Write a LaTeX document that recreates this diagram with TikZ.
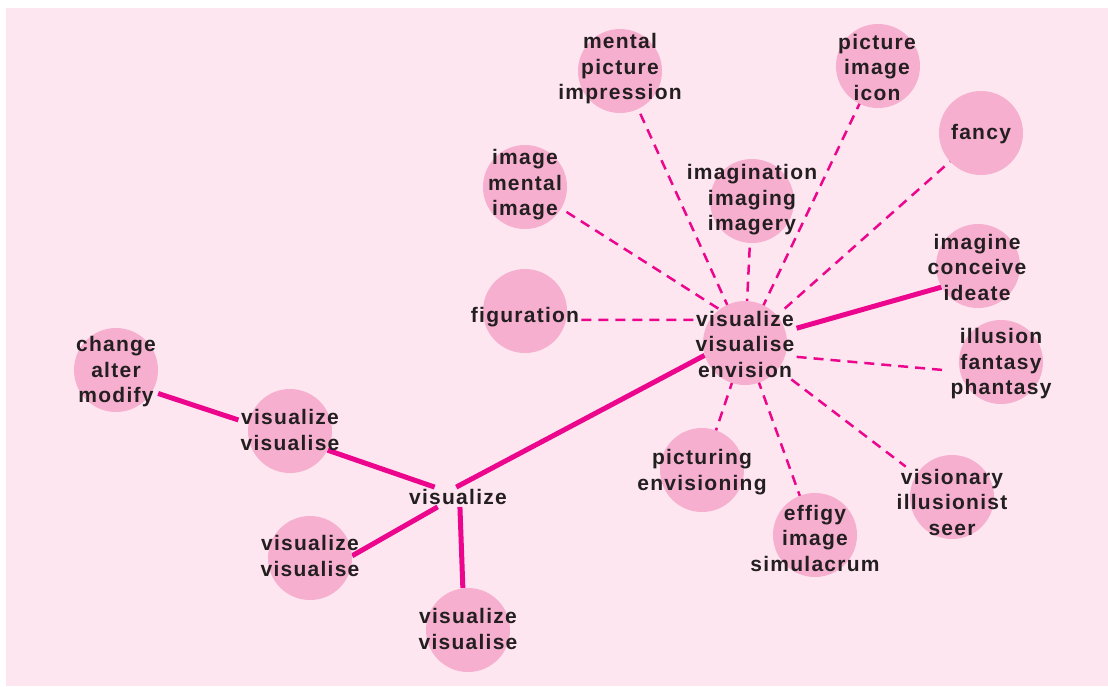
\documentclass[tikz,border=0pt]{standalone}
\usepackage{fontspec}
\setmainfont{Liberation Sans}[LetterSpace=6]
\usetikzlibrary{positioning}
\definecolor{bgpink}{HTML}{FDE6EF}
\definecolor{blobpink}{HTML}{F6AFCF}
\definecolor{linkpink}{HTML}{EC068D}
\definecolor{wordgray}{HTML}{231F20}
\pgfdeclarelayer{paper}
\pgfdeclarelayer{links}
\pgfsetlayers{paper,links,main}

\begin{document}
\begin{tikzpicture}[
        x=1pt, y=-1pt,
        blob/.style={circle, fill=blobpink, minimum size=84pt, inner sep=0pt},
        word/.style={align=center, text=wordgray, inner sep=2pt,
                font=\fontsize{21}{25.5}\selectfont\bfseries},
        strong/.style={draw=linkpink, line width=5pt},
        weak/.style={draw=linkpink, line width=2.5pt, dash pattern=on 10pt off 7pt}
        ]

        % Define the paper
        \useasboundingbox (0,0) rectangle (1108,686);
        \begin{pgfonlayer}{paper}
                \fill[bgpink] (6,8) rectangle (1108,686);
        \end{pgfonlayer}

        % Define the circles
        \node[blob] (c0) at (745,343) {};
        \node[blob] (c2) at (116,370) {};
        \node[blob] (c3) at (290,431) {};
        \node[blob] (c4) at (310,558) {};
        \node[blob] (c5) at (468,630) {};
        \node[blob] (c6) at (525,311) {};
        \node[blob] (c7) at (525,187) {};
        \node[blob] (c8) at (620,71) {};
        \node[blob] (c9) at (752,201) {};
        \node[blob] (c10) at (878,66) {};
        \node[blob] (c11) at (981,133) {};
        \node[blob] (c12) at (978,266) {};
        \node[blob] (c13) at (1001,362) {};
        \node[blob] (c14) at (952,497) {};
        \node[blob] (c15) at (815,535) {};
        \node[blob] (c16) at (702,470) {};

        % Define the words
        \node[word] (n0) at (745,344) {visualize\\visualise\\envision};
        \node[word] (n1) at (458,497) {visualize};
        \node[word] (n2) at (116,372) {change\\alter\\modify};
        \node[word] (n3) at (290,430) {visualize\\visualise};
        \node[word] (n4) at (310,556) {visualize\\visualise};
        \node[word] (n5) at (468,629) {visualize\\visualise};
        \node[word] (n6) at (525,317) {figuration};
        \node[word] (n7) at (525,185) {image\\mental\\image};
        \node[word] (n8) at (620,69) {mental\\picture\\impression};
        \node[word] (n9) at (752,200) {imagination\\imaging\\imagery};
        \node[word] (n10) at (877,67) {picture\\image\\icon};
        \node[word] (n11) at (981,134) {fancy};
        \node[word] (n12) at (977,267) {imagine\\conceive\\ideate};
        \node[word] (n13) at (1001,364) {illusion\\fantasy\\phantasy};
        \node[word] (n14) at (952,502) {visionary\\illusionist\\seer};
        \node[word] (n15) at (815,538) {effigy\\image\\simulacrum};
        \node[word] (n16) at (702,472) {picturing\\envisioning};

        % Draw the links
        \begin{pgfonlayer}{links}
                \draw[strong] (n2.-27) -- (n3.169);
                \draw[strong] (c3.-27) -- (n1.157);
                \draw[strong] (n1.-154) -- (c4.3);
                \draw[strong] (n1.-79) -- (c5.97);
                \draw[strong] (n1.100) -- (c0.197);
                \draw[strong] (n0.17) -- (c12.210);

                \draw[weak] (n0.155) -- (n6.-3);
                \draw[weak] (n0.127) -- (n7.-33);
                \draw[weak] (n0) -- (n8);
                \draw[weak] (n0) -- (n9);
                \draw[weak] (n0) -- (n10);
                \draw[weak] (n0) -- (n11);
                \draw[weak] (n0.-14) -- (n13.187);
                \draw[weak] (n0) -- (n14);
                \draw[weak] (n0) -- (n15);
                \draw[weak] (n0) -- (n16);
        \end{pgfonlayer}
\end{tikzpicture}
\end{document}
